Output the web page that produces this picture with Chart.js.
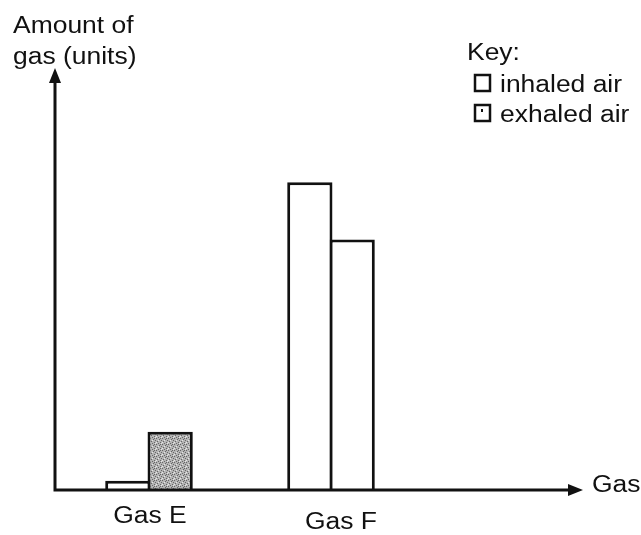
<!DOCTYPE html>
<html lang="en">
<head>
    <meta charset="UTF-8">
    <title>Amount of gas</title>
    <script src="https://cdn.jsdelivr.net/npm/chart.js"></script>
    <style>
        body { margin: 0; background: #fff; }
    </style>
</head>
<body>
    <canvas id="gasChart" width="641" height="535"></canvas>

    <script>
        // data (units are arbitrary, y axis goes 0..10)
        const categories = ['Gas E', 'Gas F'];
        const inhaled = [0.2, 7.5];
        const exhaled = [1.4, 6.1];
        const seriesNames = ['inhaled air', 'exhaled air'];
        const yTitle = ['Amount of', 'gas (units)'];
        const xTitle = 'Gas';
        const keyTitle = 'Key:';

        const ink = '#111';
        const FONT = '23px "Liberation Sans", Arial, sans-serif';

        // grey stipple used for the exhaled bar of gas E
        function stipple() {
            const c = document.createElement('canvas');
            c.width = 6; c.height = 6;
            const g = c.getContext('2d');
            g.fillStyle = '#b4b4b4';
            g.fillRect(0, 0, 6, 6);
            g.fillStyle = '#666';
            [[0, 0], [3, 1], [1, 3], [4, 4], [5, 2], [2, 5], [4, 0]].forEach(p => g.fillRect(p[0], p[1], 1, 1));
            g.fillStyle = '#e6e6e6';
            [[2, 2], [5, 5], [0, 4]].forEach(p => g.fillRect(p[0], p[1], 1, 1));
            return g.createPattern(c, 'repeat');
        }

        // text in the scan is a bit wider than plain Arial
        function stretchText(ctx, txt, x, y, align) {
            ctx.save();
            ctx.font = FONT;
            ctx.fillStyle = ink;
            ctx.textBaseline = 'alphabetic';
            const w = ctx.measureText(txt).width * 1.15;
            let x0 = x;
            if (align === 'center') x0 = x - w / 2;
            ctx.translate(x0, y);
            ctx.scale(1.15, 1);
            ctx.textAlign = 'left';
            ctx.fillText(txt, 0, 0);
            ctx.restore();
        }

        function arrowHead(ctx, tx, ty, dir) {
            ctx.beginPath();
            if (dir === 'up') {
                ctx.moveTo(tx, ty);
                ctx.lineTo(tx - 6, ty + 15);
                ctx.lineTo(tx + 6, ty + 15);
            } else {
                ctx.moveTo(tx, ty);
                ctx.lineTo(tx - 15, ty - 6);
                ctx.lineTo(tx - 15, ty + 6);
            }
            ctx.closePath();
            ctx.fill();
        }

        const diagram = {
            id: 'diagram',
            afterDraw(chart) {
                const ctx = chart.ctx;
                const a = chart.chartArea;
                const xs = chart.scales.x;

                ctx.save();
                ctx.strokeStyle = ink;
                ctx.fillStyle = ink;
                ctx.lineWidth = 3;

                // axes with arrows
                const ox = a.left - 3;
                ctx.beginPath();
                ctx.moveTo(ox, a.top - 6);
                ctx.lineTo(ox, a.bottom + 1);
                ctx.lineTo(chart.width - 64, a.bottom + 1);
                ctx.stroke();
                arrowHead(ctx, ox, a.top - 12, 'up');
                arrowHead(ctx, chart.width - 58, a.bottom + 1, 'right');

                // axis titles
                stretchText(ctx, yTitle[0], 13, 33);
                stretchText(ctx, yTitle[1], 13, 64);
                stretchText(ctx, xTitle, chart.width - 49, a.bottom + 3);

                // category labels under the axis (gas F sits a little lower in the scan)
                categories.forEach((c, i) => {
                    const px = xs.getPixelForValue(i);
                    stretchText(ctx, c, px + (i === 0 ? 1 : 10), a.bottom + (i === 0 ? 34 : 40), 'center');
                });

                // key
                stretchText(ctx, keyTitle, 467, 60);
                ctx.lineWidth = 2.5;
                ctx.strokeRect(475, 75, 15, 16);
                stretchText(ctx, seriesNames[0], 500, 92);
                ctx.strokeRect(475, 105, 15, 16);
                ctx.fillRect(481, 109, 2, 3);
                stretchText(ctx, seriesNames[1], 500, 122);

                ctx.restore();
            }
        };

        new Chart(document.getElementById('gasChart'), {
            type: 'bar',
            data: {
                labels: categories,
                datasets: [{
                    label: seriesNames[0],
                    data: inhaled,
                    backgroundColor: '#fff',
                    borderColor: ink,
                    borderWidth: 3
                }, {
                    label: seriesNames[1],
                    data: exhaled,
                    backgroundColor: [stipple(), '#fff'],
                    borderColor: ink,
                    borderWidth: 3
                }]
            },
            options: {
                responsive: false,
                animation: false,
                layout: { padding: { left: 58, top: 80, right: 219, bottom: 46 } },
                // bars slightly wider than their slot so neighbours share one edge
                datasets: { bar: { categoryPercentage: 0.465, barPercentage: 1.07 } },
                scales: {
                    x: { display: false },
                    y: { display: false, min: 0, max: 10 }
                },
                plugins: {
                    legend: { display: false },
                    tooltip: { enabled: false }
                }
            },
            plugins: [diagram]
        });
    </script>
</body>
</html>
